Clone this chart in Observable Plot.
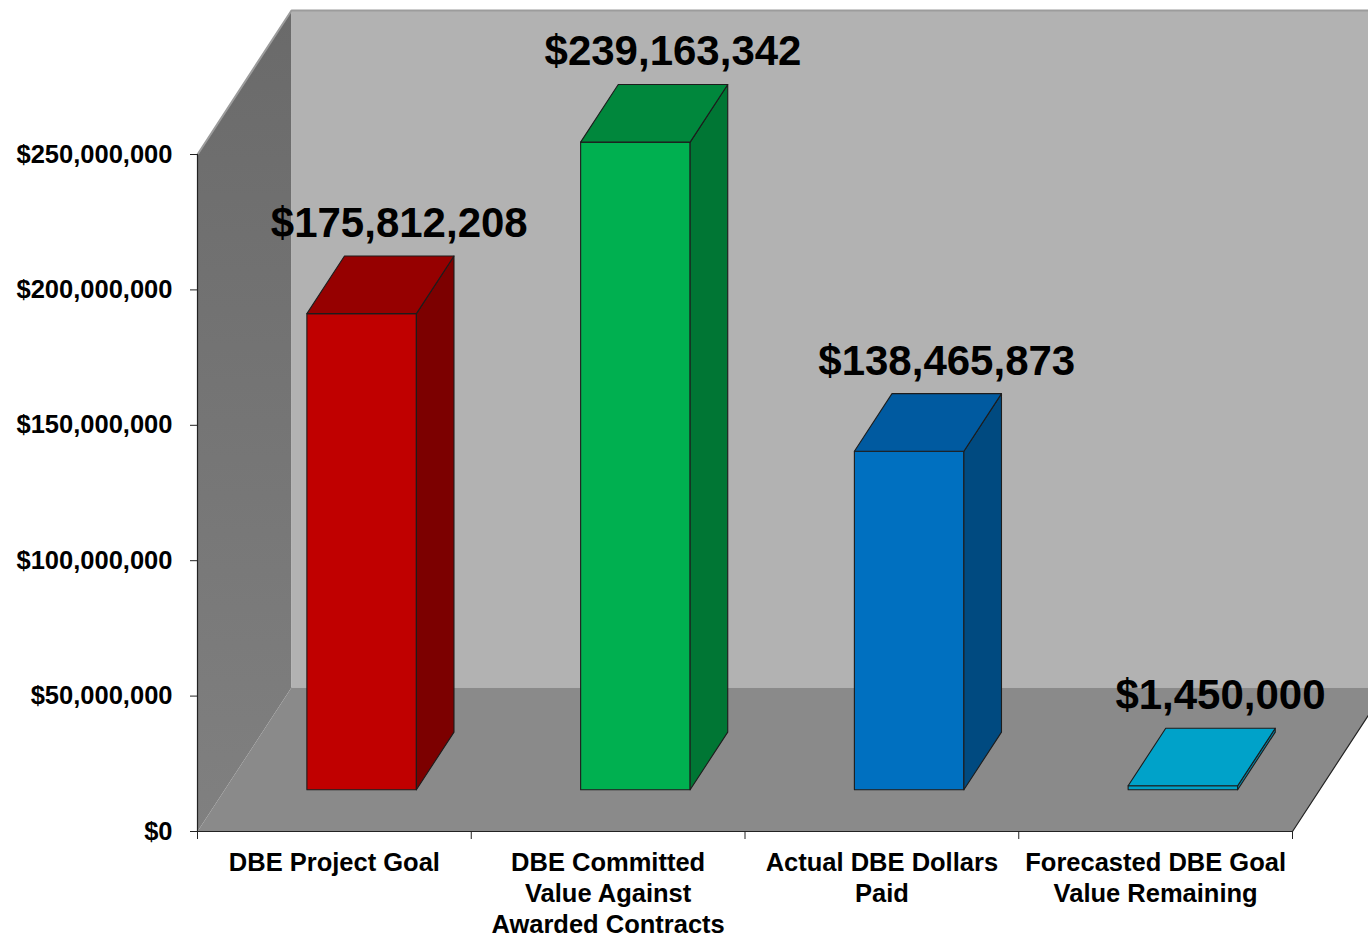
<!DOCTYPE html>
<html>
<head>
<meta charset="utf-8">
<script src="https://cdn.jsdelivr.net/npm/d3@7"></script>
<script src="https://cdn.jsdelivr.net/npm/@observablehq/plot@0.6"></script>
<style>
  html, body { margin: 0; padding: 0; background: #fff; overflow: hidden; }
</style>
</head>
<body>
<div id="chart"></div>
<script>
// ---------- data ----------
const categories = [
  "DBE Project Goal",
  "DBE Committed\nValue Against\nAwarded Contracts",
  "Actual DBE Dollars\nPaid",
  "Forecasted DBE Goal\nValue Remaining"
];
// bar heights as drawn in the picture
const barValues = [175812208, 239163342, 125000000, 1450000];
// data-label texts shown above the bars
const valueLabels = ["$175,812,208", "$239,163,342", "$138,465,873", "$1,450,000"];
const yTicks = [0, 50000000, 100000000, 150000000, 200000000, 250000000];

// ---------- styles ----------
const frontColors = ["#c00000", "#00b050", "#0070c0", "#00a0c6"];
const sideColors  = ["#7c0000", "#007634", "#004a80", "#0086a8"];
const topColors   = ["#960000", "#00873c", "#005aa0", "#00a2c9"];

// ---------- layout ----------
const W = 1368, H = 939;
const mL = 197, mR = 76, mT = 154, mB = 108;
const yMax = 250000000;
const nCat = categories.length;
const pxPerX = (W - mL - mR) / nCat;
const pxPerY = (H - mT - mB) / yMax;
// oblique depth of the 3-D box, in pixels, converted to data units
const depthDX = 94 / pxPerX;
const depthDY = 144 / pxPerY;
const dFront = 0.29, dBack = 0.69, halfW = 0.2;

const P = (x, y, d) => ({x: x + d * depthDX, y: y + d * depthDY});

function polyRows(id, fill, pts) {
  const closed = [...pts, pts[0]];
  return closed.map(p => ({id, fill, x: p.x, y: p.y}));
}

// walls & floor
const wallRows = [
  ...polyRows("left", "url(#leftWall)", [P(0, 0, 0), P(0, yMax, 0), P(0, yMax, 1), P(0, 0, 1)]),
  ...polyRows("back", "#b2b2b2", [P(0, 0, 1), P(nCat, 0, 1), P(nCat, yMax, 1), P(0, yMax, 1)]),
  ...polyRows("floor", "#8a8a8a", [P(0, 0, 0), P(nCat, 0, 0), P(nCat, 0, 1), P(0, 0, 1)])
];
const floorEdge = [P(nCat, 0, 0), P(nCat, 0, 1.2)];
const backTopEdge = [P(0, yMax, 0), P(0, yMax, 1), P(nCat + 0.2, yMax, 1)];

// bars
const barRows = [];
barValues.forEach((v, i) => {
  const cx = i + 0.5, x0 = cx - halfW, x1 = cx + halfW;
  barRows.push(...polyRows("f" + i, frontColors[i], [P(x0, 0, dFront), P(x1, 0, dFront), P(x1, v, dFront), P(x0, v, dFront)]));
  barRows.push(...polyRows("s" + i, sideColors[i], [P(x1, 0, dFront), P(x1, 0, dBack), P(x1, v, dBack), P(x1, v, dFront)]));
  barRows.push(...polyRows("t" + i, topColors[i], [P(x0, v, dFront), P(x1, v, dFront), P(x1, v, dBack), P(x0, v, dBack)]));
});

const labelRows = valueLabels.map((t, i) => ({
  text: t,
  ...P(i + 0.5, barValues[i], dBack)
}));

const defsMark = () => {
  const ns = "http://www.w3.org/2000/svg";
  const defs = document.createElementNS(ns, "defs");
  defs.innerHTML = `<linearGradient id="leftWall" x1="0" y1="0" x2="0" y2="1">
      <stop offset="0" stop-color="#6a6a6a"/><stop offset="1" stop-color="#808080"/></linearGradient>`;
  return defs;
};

const fmt = d3.format(",");

const chart = Plot.plot({
  width: W,
  height: H,
  marginLeft: mL,
  marginRight: mR,
  marginTop: mT,
  marginBottom: mB,
  x: {domain: [0, nCat], label: null},
  y: {domain: [0, yMax], label: null},
  color: {type: "identity"},
  style: {fontFamily: "'Liberation Sans', Arial, sans-serif", fontWeight: "bold", color: "#000", background: "#fff"},
  marks: [
    defsMark,
    Plot.line(wallRows, {x: "x", y: "y", z: "id", fill: "fill", stroke: "none", curve: "linear"}),
    Plot.line(backTopEdge, {x: "x", y: "y", stroke: "#9c9c9c", strokeWidth: 2}),
    Plot.line(floorEdge, {x: "x", y: "y", stroke: "#222", strokeWidth: 1.2}),
    Plot.line(barRows, {x: "x", y: "y", z: "id", fill: "fill", stroke: "#1c1c1c", strokeWidth: 1.1, strokeLinejoin: "round", curve: "linear"}),
    Plot.ruleX([0], {y1: 0, y2: yMax, stroke: "#222", strokeWidth: 1.2}),
    Plot.ruleY([0], {x1: 0, x2: nCat, stroke: "#222", strokeWidth: 1.2}),
    Plot.axisY(yTicks, {
      tickSize: 7, tickPadding: 18, stroke: "#222",
      tickFormat: d => "$" + fmt(d), fontSize: 25.5, fontWeight: "bold", label: null
    }),
    Plot.axisX([0, 1, 2, 3, 4], {tickSize: 8, stroke: "#222", tickFormat: () => "", label: null}),
    Plot.text(categories, {
      x: (d, i) => i + 0.5, y: () => 0, text: d => d,
      lineAnchor: "top", dy: 18, fontSize: 25.5, fontWeight: "bold", lineHeight: 1.21, fill: "#000"
    }),
    Plot.text(labelRows, {
      x: "x", y: "y", text: "text",
      lineAnchor: "bottom", dy: -19, fontSize: 42, fontWeight: "bold", fill: "#000"
    })
  ]
});
document.getElementById("chart").appendChild(chart);
</script>
</body>
</html>
